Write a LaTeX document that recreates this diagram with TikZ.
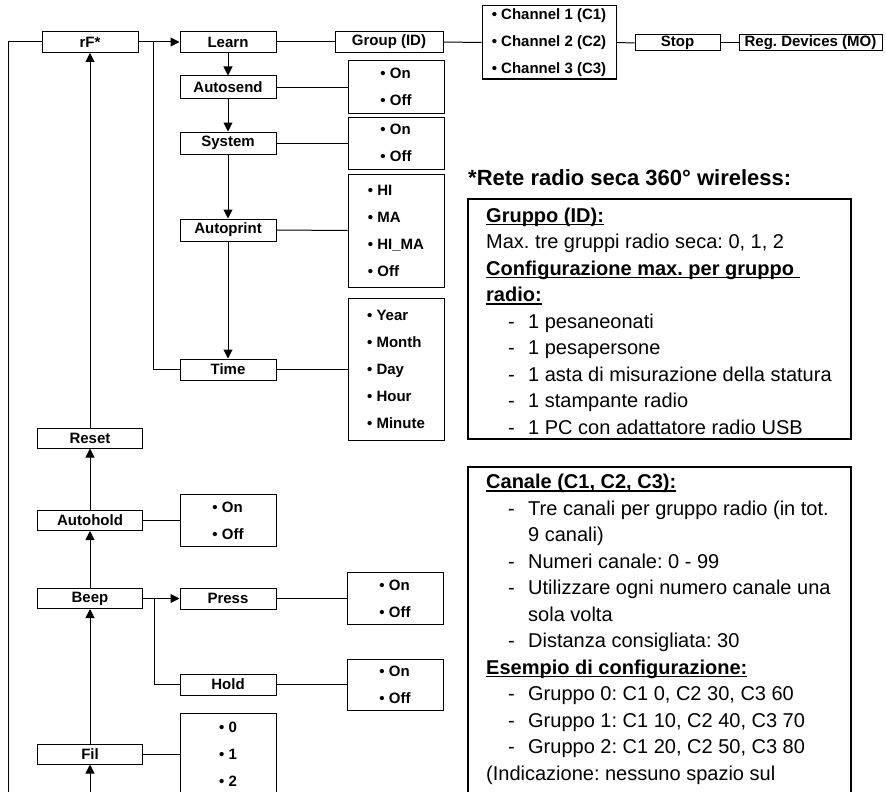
\documentclass[tikz,border=0pt]{standalone}
\usepackage{fontspec}
\setmainfont{Liberation Sans}
\usetikzlibrary{positioning,arrows.meta}
\frenchspacing

\newcommand{\ulhead}[1]{\setbox0\hbox{\bfseries #1}\rlap{\rule[-3pt]{\wd0}{1.5pt}}\box0}
\newcommand{\dashitem}[1]{\hspace*{22pt}\makebox[20pt][l]{-}#1}
\newcommand{\dashcont}[1]{\hspace*{42pt}#1}

\begin{document}
\begin{tikzpicture}[x=1pt, y=-1pt,
  menu/.style={draw, line width=1pt, minimum width=96pt, minimum height=21pt, inner sep=0pt, font=\bfseries\fontsize{15}{27}\selectfont},
  opts/.style={menu, align=left, minimum height=52pt},
  arrow/.style={-{Triangle[length=9pt, width=9pt]}, line width=1pt},
  link/.style={line width=1pt},
  notebox/.style={draw, line width=1.8pt},
  note/.style={align=left, inner sep=0pt, font=\fontsize{20}{26.5}\selectfont},
]
\useasboundingbox (0,0) rectangle (886,792);
\clip (0,0) rectangle (886,792);

% === Main menu column ===
\node[menu] (rf) at (90,42) {rF*};
\node[menu, minimum width=105pt, minimum height=20pt] (reset) at (90,438) {Reset};
\node[menu, minimum width=105pt, minimum height=20pt] (autohold) at (90,520.5) {Autohold};
\node[menu, minimum width=105pt, minimum height=20pt] (beep) at (90,598.5) {Beep};
\node[menu, minimum width=105pt, minimum height=20pt] (fil) at (90,754) {Fil};

% === Learn submenu ===
\node[menu] (learn) at (228,42) {Learn};
\node[menu, minimum height=22pt] (autosend) at (228,87) {Autosend};
\node[menu, minimum height=22pt] (system) at (228,143) {System};
\node[menu, minimum height=22pt] (autoprint) at (228,230) {Autoprint};
\node[menu] (time) at (228,369.5) {Time};

\node[opts] (autosend-opt) at (396,87) {• On\\• Off};
\node[opts] (system-opt) at (396,143) {• On\\• Off};
\node[opts, minimum height=113pt] (autoprint-opt) at (396,230.5) {• HI\\• MA\\• HI\_MA\\• Off};
\node[opts, minimum height=142pt] (time-opt) at (396,369.5) {• Year\\• Month\\• Day\\• Hour\\• Minute};

% === Radio chain ===
\node[menu, minimum width=108pt] (group) at (389,42) {Group (ID)};
\node[opts, minimum width=134pt, minimum height=73pt] (chan) at (549,42.5) {• Channel 1 (C1)\\• Channel 2 (C2)\\• Channel 3 (C3)};
\node[menu, minimum width=85pt, minimum height=16pt] (stop) at (677.5,43) {Stop};
\node[menu, minimum width=143pt, minimum height=16pt] (regdev) at (810.5,43) {Reg. Devices (MO)};

% === Beep submenu and options ===
\node[menu] (press) at (228,598.5) {Press};
\node[menu] (hold) at (228,684.5) {Hold};
\node[opts] (press-opt) at (395,598.5) {• On\\• Off};
\node[opts, minimum height=51pt] (hold-opt) at (395,684.5) {• On\\• Off};
\node[opts] (autohold-opt) at (228,520.5) {• On\\• Off};
\node[opts, minimum height=81pt] (fil-opt) at (228,754) {• 0\\• 1\\• 2};

% off-page ends
\coordinate (loopend) at (8,830);
\coordinate (filin) at (90,830);

% === Connectors ===
\draw[link] (rf.west) -| (loopend);
\draw[arrow] (rf.east) -- (learn.west);
\draw[link] ([xshift=-26pt]learn.west) |- (time.west);
\draw[link] (learn.east) -- (group.west);
\draw[link] (group.east) -- (chan.west);
\draw[link] (chan.east) -- (stop.west);
\draw[link] (stop.east) -- (regdev.west);

\foreach \a/\b in {learn/autosend, autosend/system, system/autoprint, autoprint/time}
  \draw[arrow] (\a) -- (\b);
\foreach \a/\b in {filin/fil, fil/beep, beep/autohold, autohold/reset, reset/rf}
  \draw[arrow] (\a) -- (\b);
\foreach \a in {autosend, system, autoprint, time, autohold, press, hold, fil}
  \draw[link] (\a.east) -- (\a-opt.west);

\draw[arrow] (beep.east) -- (press.west);
\draw[link] ([xshift=-25pt]press.west) |- (hold.west);

% === Notes ===
\node[anchor=west, inner sep=0pt, font=\bfseries\fontsize{22}{26}\selectfont] (title) at (468,178) {*Rete radio seca 360° wireless:};

\node[notebox, minimum width=383pt, minimum height=240pt, anchor=north west] (gruppobox) at (467,198) {};
\node[note, anchor=north west] (gruppotext) at (486,207.5) {%
  \ulhead{Gruppo (ID):}\\
  Max. tre gruppi radio seca: 0, 1, 2\\
  \ulhead{Configurazione max. per gruppo\ }\\
  \ulhead{radio:}\\
  \dashitem{1 pesaneonati}\\
  \dashitem{1 pesapersone}\\
  \dashitem{1 asta di misurazione della statura}\\
  \dashitem{1 stampante radio}\\
  \dashitem{1 PC con adattatore radio USB}};

\node[notebox, minimum width=383pt, minimum height=400pt, anchor=north west] (canalebox) at (467,466) {};
\node[note, anchor=north west] (canaletext) at (486,474) {%
  \ulhead{Canale (C1, C2, C3):}\\
  \dashitem{Tre canali per gruppo radio (in tot.}\\
  \dashcont{9 canali)}\\
  \dashitem{Numeri canale: 0 - 99}\\
  \dashitem{Utilizzare ogni numero canale una}\\
  \dashcont{sola volta}\\
  \dashitem{Distanza consigliata: 30}\\
  \ulhead{Esempio di configurazione:}\\
  \dashitem{Gruppo 0: C1 0, C2 30, C3 60}\\
  \dashitem{Gruppo 1: C1 10, C2 40, C3 70}\\
  \dashitem{Gruppo 2: C1 20, C2 50, C3 80}\\
  (Indicazione: nessuno spazio sul};

\end{tikzpicture}
\end{document}
